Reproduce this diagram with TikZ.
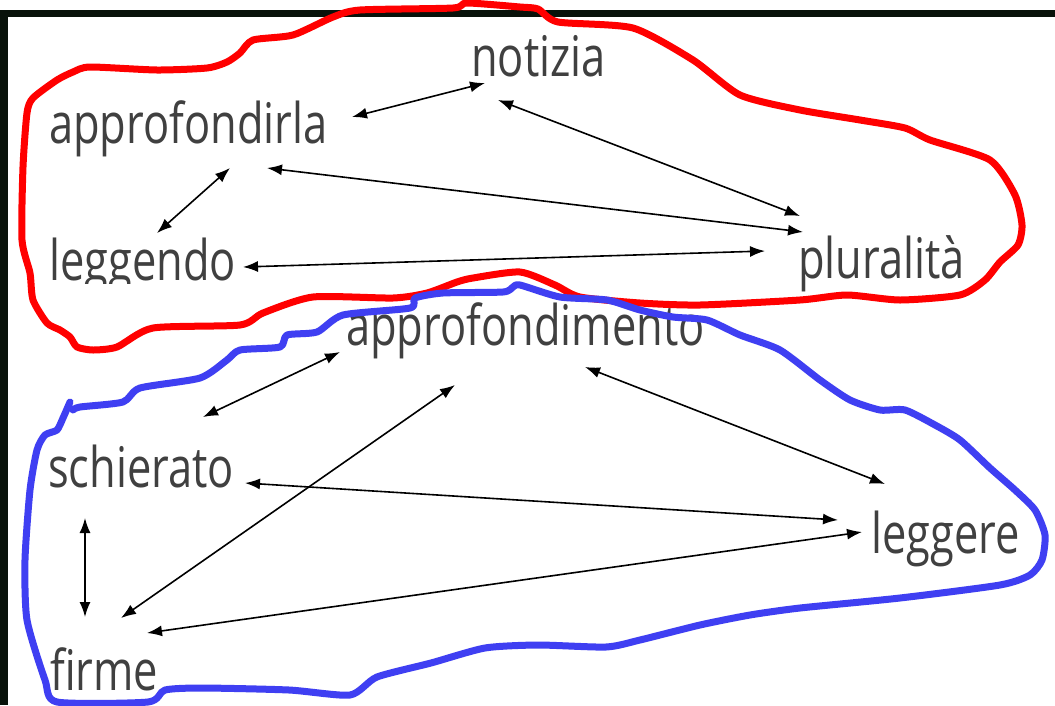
\documentclass[tikz,border=0pt]{standalone}
\usepackage{fontspec}
\setmainfont{Open Sans}
\usetikzlibrary{arrows.meta}
\definecolor{txt}{HTML}{404040}
\definecolor{frame}{RGB}{8,18,10}
\definecolor{redline}{HTML}{FF0000}
\definecolor{blueline}{HTML}{3F3FF2}
\newcommand{\narrowtxt}[1]{\scalebox{0.775}[1]{#1}}
\tikzset{
  lbl/.style={anchor=base west, inner sep=0pt, text=txt, font=\fontsize{56}{60}\selectfont},
  arr/.style={black, line width=1.6pt, {Latex[length=15pt,width=11pt]}-{Latex[length=15pt,width=11pt]}},
  blob/.style={line width=7pt, line join=round, line cap=round},
}
\begin{document}
\begin{tikzpicture}[x=1pt,y=-1pt]
\useasboundingbox (0,0) rectangle (1055,705);
\fill[white] (0,0) rectangle (1055,705);
% dark frame
\fill[frame] (0,10) rectangle (1055,17);
\fill[frame] (0,10) rectangle (8,705);

% texts
\node[lbl] (notizia) at (471,76) {\narrowtxt{notizia}};
\node[lbl] (approfondirla) at (49,143) {\narrowtxt{approfondirla}};
\begin{scope}
\clip (0,0) rectangle (1055,283);
\node[lbl] (leggendo) at (49,280) {\narrowtxt{leggendo}};
\end{scope}
\node[lbl] (pluralita) at (798,278) {\narrowtxt{pluralità}};
\node[lbl] (approfondimento) at (346,345) {\narrowtxt{approfondimento}};
\node[lbl] (schierato) at (48,487) {\narrowtxt{schierato}};
\node[lbl] (leggere) at (871,553) {\narrowtxt{leggere}};
\node[lbl] (firme) at (50,690) {\narrowtxt{firme}};

% red blob
\draw[blob, redline] plot[smooth cycle, tension=0.4] coordinates {
 (27,113) (33,98) (57,80) (73,72) (90,67) (157,70) (207,68) (227,62) (240,53)
 (253,40) (293,35) (333,17) (360,10) (453,8) (467,3) (520,7) (538,9) (558,22)
 (633,28) (693,60) (740,95) (800,110) (860,120) (905,128) (930,140) (990,160)
 (1015,195) (1022,225) (1018,245) (1000,262) (985,280) (960,295) (900,300)
 (847,295) (800,300) (700,305) (640,303) (580,297) (555,285) (520,272)
 (473,278) (457,282) (427,293) (393,298) (313,297) (263,313) (240,325)
 (153,328) (117,347) (93,350) (77,347) (70,337) (60,330) (47,323) (33,300)
 (30,273) (22,240) (23,167)};

% blue blob
\draw[blob, blueline] plot[smooth, tension=0.4] coordinates {
 (70,402) (63,418) (57,430) (45,435) (37,450) (30,490) (25,560) (27,620)
 (45,680) (57,702) (148,702) (165,690) (202,688) (289,690) (350,695)
 (377,677) (431,663) (485,648) (538,645) (606,647) (640,640) (700,625)
 (750,615) (800,608) (900,598) (1000,585) (1030,575) (1042,560) (1045,535)
 (1035,510) (1015,490) (990,468) (960,440) (935,425) (905,410) (880,410)
 (850,400) (820,380) (780,350) (740,335) (707,320) (673,317) (640,310)
 (607,300) (560,297) (520,285) (513,287) (503,292) (443,293) (415,298)
 (410,308) (343,315) (317,332) (287,335) (280,347) (240,350) (227,360)
 (200,378) (140,388) (123,402) (80,407) (73,410)};

% arrows
\draw[arr] ([shift={(303,-26)}]approfondirla.base west) -- ([shift={(14,7)}]notizia.base west);
\draw[arr] ([shift={(27,24)}]notizia.base west) -- ([shift={(2,-62)}]pluralita.base west);
\draw[arr] ([shift={(218,25)}]approfondirla.base west) -- ([shift={(5,-46)}]pluralita.base west);
\draw[arr] ([shift={(181,25)}]approfondirla.base west) -- ([shift={(108,-47)}]leggendo.base west);
\draw[arr] ([shift={(194,-13)}]leggendo.base west) -- ([shift={(-33,-27)}]pluralita.base west);
\draw[arr] ([shift={(-6,7)}]approfondimento.base west) -- ([shift={(155,-70)}]schierato.base west);
\draw[arr] ([shift={(109,40)}]approfondimento.base west) -- ([shift={(71,-72)}]firme.base west);
\draw[arr] ([shift={(239,22)}]approfondimento.base west) -- ([shift={(14,-69)}]leggere.base west);
\draw[arr] ([shift={(197,-4)}]schierato.base west) -- ([shift={(-33,-33)}]leggere.base west);
\draw[arr] ([shift={(37,31)}]schierato.base west) -- ([shift={(35,-73)}]firme.base west);
\draw[arr] ([shift={(97,-57)}]firme.base west) -- ([shift={(-9,-21)}]leggere.base west);
\end{tikzpicture}
\end{document}
